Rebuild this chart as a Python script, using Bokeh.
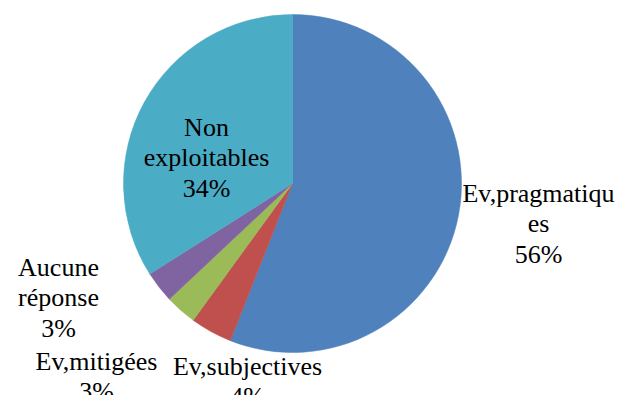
import numpy as np
from bokeh.plotting import figure
from bokeh.models import Range1d, ColumnDataSource, Label
from bokeh.embed import file_html
from bokeh.resources import INLINE

# Data
categories = ["Ev,pragmatiques", "Ev,subjectives", "Ev,mitigées", "Aucune réponse", "Non exploitables"]
label_names = ["Ev,pragmatiqu\nes", "Ev,subjectives", "Ev,mitigées", "Aucune\nréponse", "Non\nexploitables"]
percents = [56, 4, 3, 3, 34]
colors = ["#4F81BD", "#C0504D", "#9BBB59", "#8064A2", "#4BACC6"]

# Layout (pixel-like units, y measured from the top)
W, H = 621, 395
cx, cy_px, R = 292, 183, 169
label_x = [538, 247, 96, 58, 206]
label_y_px = [214, 372, 367, 288, 148]   # centre of each label block
line_gap = 30.5
baseline_shift = 9

vals = np.array(percents, dtype=float)
frac = vals / vals.sum()
cum = np.concatenate([[0], np.cumsum(frac)])
start = np.pi / 2 - 2 * np.pi * cum[:-1]
end = np.pi / 2 - 2 * np.pi * cum[1:]

src = ColumnDataSource(dict(start=start, end=end, color=colors, cat=categories))

p = figure(width=W, height=H, output_backend="svg", toolbar_location=None,
           x_range=Range1d(0, W), y_range=Range1d(0, H), min_border=0)
p.axis.visible = False
p.grid.visible = False
p.outline_line_color = None

p.wedge(x=cx, y=H - cy_px, radius=R, start_angle="start", end_angle="end",
        direction="clock", fill_color="color", line_color="color", line_width=0.5, source=src)

for name, pct, lx, ly in zip(label_names, percents, label_x, label_y_px):
    lines = name.split("\n") + [f"{int(pct)}%"]
    n = len(lines)
    for i, t in enumerate(lines):
        y_px = ly + (i - (n - 1) / 2) * line_gap + baseline_shift
        p.add_layout(Label(x=lx, y=H - y_px, text=t, text_align="center", text_baseline="alphabetic",
                           text_font="Liberation Serif", text_font_size="26px", text_color="black"))

open("out.html", "w").write(file_html(p, INLINE))
